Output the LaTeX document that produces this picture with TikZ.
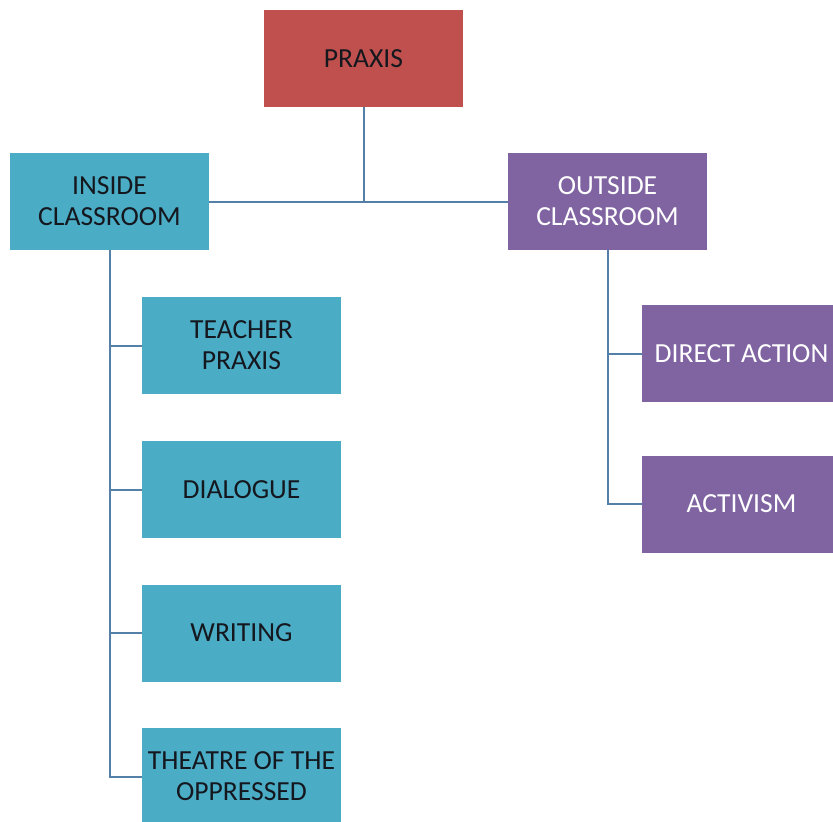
\documentclass[tikz,border=0pt]{standalone}
\usepackage{fontspec}
\setmainfont{Carlito}
\definecolor{praxisred}{RGB}{192,80,77}
\definecolor{insideblue}{RGB}{75,172,198}
\definecolor{outsidepurple}{RGB}{128,100,162}
\definecolor{linkblue}{RGB}{84,128,168}
\definecolor{darktext}{RGB}{20,24,30}
\begin{document}
\begin{tikzpicture}[x=0.5pt, y=-0.5pt,
  box/.style = {minimum width=99.5pt, minimum height=48.5pt, inner sep=0pt, outer sep=0pt, align=center, font=\fontsize{13.8}{15.5}\selectfont},
  redbox/.style = {box, fill=praxisred, text=darktext},
  bluebox/.style = {box, fill=insideblue, text=darktext},
  purplebox/.style = {box, fill=outsidepurple, text=white},
  link/.style = {draw=linkblue, line width=1pt}]
\useasboundingbox (0,0) rectangle (833,821);
\clip (0,0) rectangle (833,821);
\node[redbox] (praxis) at (363.5,58.5) {PRAXIS};
\node[bluebox] (inside) at (109.5,201.5) {INSIDE\\CLASSROOM};
\node[purplebox] (outside) at (607.5,201.5) {OUTSIDE\\CLASSROOM};
\node[bluebox] (teacher) at (241.5,345.5) {TEACHER\\PRAXIS};
\node[bluebox] (dialogue) at (241.5,489.5) {DIALOGUE};
\node[bluebox] (writing) at (241.5,633) {WRITING};
\node[bluebox] (theatre) at (241.5,776.5) {THEATRE OF THE\\OPPRESSED};
\node[purplebox] (direct) at (741.5,353.5) {DIRECT ACTION};
\node[purplebox] (activism) at (741.5,504) {ACTIVISM};

\draw[link] (inside) -- (outside);
\draw[link] (praxis) -- (praxis |- inside.east);
\foreach \child in {teacher,dialogue,writing,theatre}
  \draw[link] (inside.south) |- (\child.west);
\foreach \child in {direct,activism}
  \draw[link] (outside.south) |- (\child.west);
\end{tikzpicture}
\end{document}
